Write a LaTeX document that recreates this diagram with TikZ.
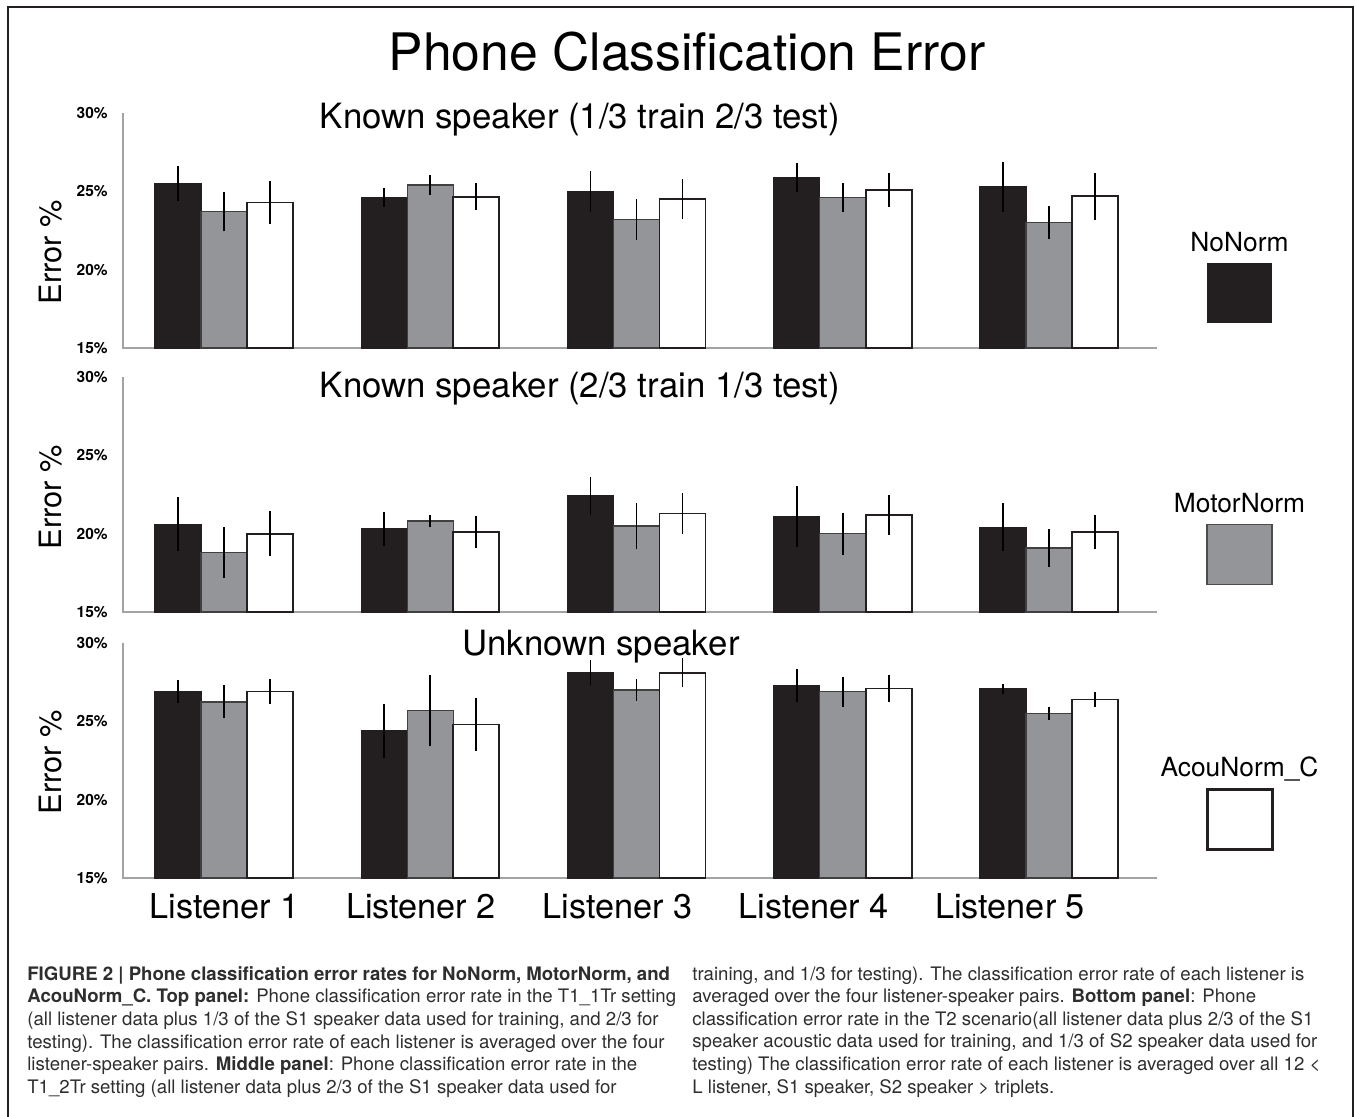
\documentclass[tikz,border=0pt]{standalone}
\usepackage{fontspec}
\setmainfont{TeX Gyre Heros}
\newfontfamily\capfont{TeX Gyre Heros}
\usetikzlibrary{positioning}

\definecolor{barblack}{HTML}{231F20}
\definecolor{bargray}{HTML}{939598}
\definecolor{axisgray}{HTML}{A3A3A3}
\definecolor{capgray}{HTML}{2E2E2E}

\tikzset{
  nonorm/.style={fill=barblack, draw=barblack, line width=0.8pt},
  motornorm/.style={fill=bargray, draw=black!75, line width=0.8pt},
  acounorm/.style={fill=white, draw=barblack, line width=0.9pt},
  errbar/.style={draw=black, line width=1.1pt},
  axisline/.style={draw=axisgray, line width=1pt},
  ticklab/.style={font=\fontsize{8.8}{9}\selectfont\bfseries, anchor=east, inner sep=0pt},
  ylab/.style={font=\fontsize{17.5}{20}\selectfont, rotate=90, inner sep=0pt},
  paneltitle/.style={font=\fontsize{19.8}{22}\selectfont, anchor=base, inner sep=0pt},
  grouplab/.style={font=\fontsize{19.5}{22}\selectfont, anchor=base, inner sep=0pt},
  legtext/.style={font=\fontsize{15}{17}\selectfont, anchor=base, inner sep=0pt},
  legbox/.style={minimum width=1.3cm, minimum height=1.2cm, inner sep=0pt},
  captext/.style={font=\capfont\fontsize{10.6}{12.9}\selectfont, text=capgray, align=left, anchor=north west, inner sep=0pt},
}

% one listener: baseline, index, then value/error for the three methods
\newcommand{\bargroup}[8]{%
  \pgfmathsetmacro{\grpx}{155+#2*206.25}
  \filldraw[nonorm] (\grpx,#1) rectangle ({\grpx+46},{#1-(#3-15)*15.66});
  \filldraw[motornorm] ({\grpx+46},#1) rectangle ({\grpx+92},{#1-(#5-15)*15.66});
  \filldraw[acounorm] ({\grpx+92},#1) rectangle ({\grpx+138},{#1-(#7-15)*15.66});
  \draw[errbar] ({\grpx+23},{#1-(#3-15-#4)*15.66}) -- ({\grpx+23},{#1-(#3-15+#4)*15.66});
  \draw[errbar] ({\grpx+69},{#1-(#5-15-#6)*15.66}) -- ({\grpx+69},{#1-(#5-15+#6)*15.66});
  \draw[errbar] ({\grpx+115},{#1-(#7-15-#8)*15.66}) -- ({\grpx+115},{#1-(#7-15+#8)*15.66});
}

\begin{document}
\begin{tikzpicture}[x=0.02cm, y=-0.02cm]
  \useasboundingbox (0,0) rectangle (1355,1116);

  % frame, open at the bottom
  \draw[barblack, line width=1.3pt] (8,1120) -- (8,7) -- (1353,7) -- (1353,1120);

  % title
  \node[font=\fontsize{29.4}{32}\selectfont, anchor=base, inner sep=0pt] (title) at (687,70) {Phone Classification Error};

  % axes of the three panels
  \foreach \yb in {348,612,878}
    \draw[axisline] (123,{\yb-235}) -- (123,\yb) -- (1157,\yb);

  % tick labels
  \foreach \yb [count=\p] in {348,612,878}
    \foreach \v in {15,20,25,30}
      \node[ticklab] (tick\p-\v) at (108,{\yb-(\v-15)*15.66}) {\v\%};

  % y labels
  \node[ylab] (ylab1) at (51,252) {Error \%};
  \node[ylab] (ylab2) at (51,497) {Error \%};
  \node[ylab] (ylab3) at (51,762) {Error \%};

  % panel titles
  \node[paneltitle] (known1) at (580,128) {Known speaker (1/3 train 2/3 test)};
  \node[paneltitle] (known2) at (580,397) {Known speaker (2/3 train 1/3 test)};
  \node[paneltitle] (unknown) at (601,655) {Unknown speaker};

  % top panel
  \foreach \g/\a/\ea/\b/\eb/\c/\ec in {0/25.5/1.1/23.7/1.25/24.3/1.37, 1/24.6/0.6/25.4/0.66/24.65/0.86,
      2/25.0/1.3/23.2/1.3/24.5/1.27, 3/25.9/0.94/24.6/0.94/25.1/1.1, 4/25.3/1.6/23.0/1.04/24.7/1.5}
    {\bargroup{348}{\g}{\a}{\ea}{\b}{\eb}{\c}{\ec}}

  % middle panel
  \foreach \g/\a/\ea/\b/\eb/\c/\ec in {0/20.6/1.73/18.8/1.65/20.0/1.43, 1/20.3/1.07/20.8/0.4/20.1/1.0,
      2/22.4/1.23/20.5/1.49/21.3/1.31, 3/21.1/1.94/20.0/1.34/21.2/1.26, 4/20.4/1.53/19.1/1.21/20.1/1.07}
    {\bargroup{612}{\g}{\a}{\ea}{\b}{\eb}{\c}{\ec}}

  % bottom panel
  \foreach \g/\a/\ea/\b/\eb/\c/\ec in {0/26.9/0.75/26.25/1.06/26.9/0.79, 1/24.4/1.74/25.7/2.29/24.8/1.7,
      2/28.1/0.8/27.0/0.68/28.1/0.93, 3/27.3/1.03/26.9/0.96/27.1/0.84, 4/27.1/0.32/25.5/0.4/26.4/0.51}
    {\bargroup{878}{\g}{\a}{\ea}{\b}{\eb}{\c}{\ec}}

  % listener names
  \foreach \n [count=\k from 0] in {1,...,5}
    \node[grouplab] (lis\n) at ({224.5+\k*196.4},918) {Listener \n};

  % legend
  \node[legbox, fill=barblack] (nonormbox) at (1239.5,293) {};
  \node[legtext] (nonormlab) at ([yshift=6.5pt]nonormbox.north) {NoNorm};
  \node[legbox, fill=bargray, draw=black!70, line width=1pt] (motorbox) at (1239.5,554.5) {};
  \node[legtext] (motorlab) at ([yshift=6.5pt]motorbox.north) {MotorNorm};
  \node[legbox, fill=white, draw=barblack, line width=1.7pt] (acoubox) at (1239.5,819.5) {};
  \node[legtext] (acoulab) at ([yshift=6.5pt]acoubox.north) {AcouNorm\_C};

  % caption
  \node[captext] (capleft) at (27,966) {%
    \textbf{FIGURE 2 | Phone classification error rates for NoNorm, MotorNorm, and}\\
    \textbf{AcouNorm\_C. Top panel:} Phone classification error rate in the T1\_1Tr setting\\
    (all listener data plus 1/3 of the S1 speaker data used for training, and 2/3 for\\
    testing). The classification error rate of each listener is averaged over the four\\
    listener-speaker pairs. \textbf{Middle panel}: Phone classification error rate in the\\
    T1\_2Tr setting (all listener data plus 2/3 of the S1 speaker data used for};
  \node[captext] (capright) at (692,966) {%
    training, and 1/3 for testing). The classification error rate of each listener is\\
    averaged over the four listener-speaker pairs. \textbf{Bottom panel}: Phone\\
    classification error rate in the T2 scenario(all listener data plus 2/3 of the S1\\
    speaker acoustic data used for training, and 1/3 of S2 speaker data used for\\
    testing) The classification error rate of each listener is averaged over all 12 <\\
    L listener, S1 speaker, S2 speaker > triplets.};
\end{tikzpicture}
\end{document}
